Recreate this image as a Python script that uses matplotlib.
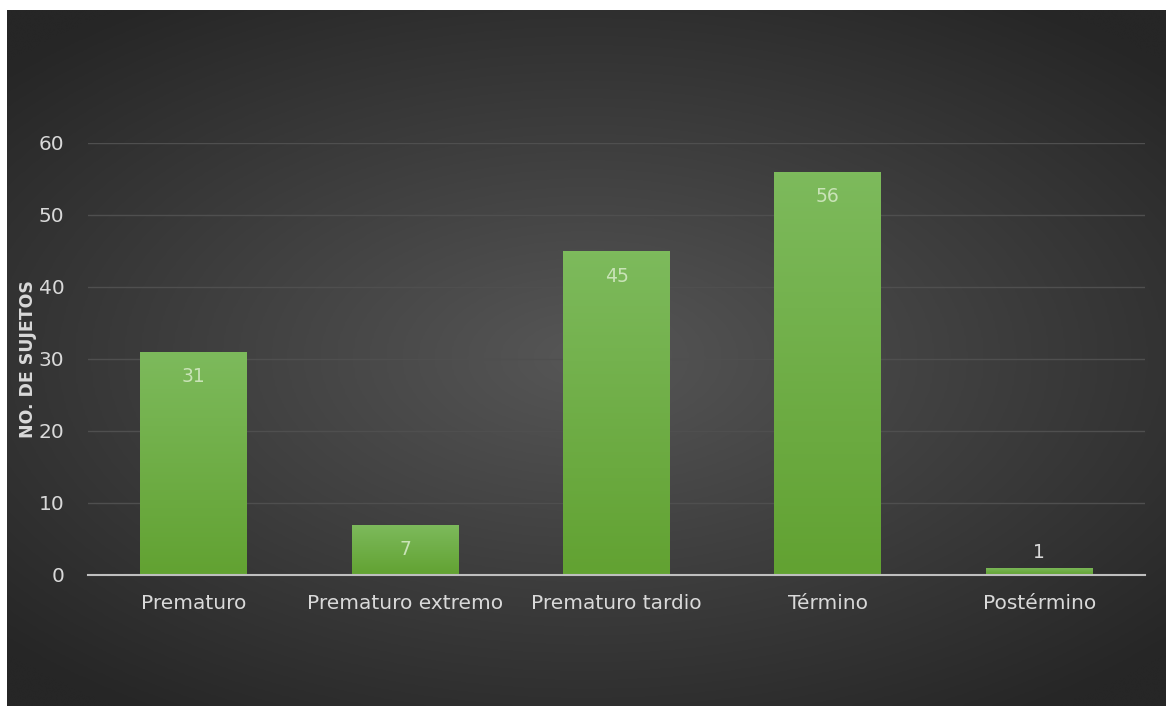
import numpy as np
import matplotlib.pyplot as plt
from matplotlib.colors import LinearSegmentedColormap

plt.rcParams['font.family'] = ['DejaVu Sans']

# data
categories = ['Prematuro', 'Prematuro extremo', 'Prematuro tardio', 'Término', 'Postérmino']
sujetos = [31, 7, 45, 56, 1]
yticks = [0, 10, 20, 30, 40, 50, 60]

W, H = 1166, 706
fig = plt.figure(figsize=(W / 100, H / 100), dpi=100, facecolor='white')

# dark radial background (thin white strip top and left, like the screenshot)
bg = fig.add_axes([7 / W, 0, 1 - 7 / W, 1 - 10 / H])
yy, xx = np.mgrid[-1:1:300j, -1:1:500j]
r = np.sqrt((xx * 0.95) ** 2 + (yy * 1.05) ** 2)
grad = np.clip(1 - r / 1.3, 0, 1)
bg.imshow(grad, cmap=LinearSegmentedColormap.from_list('bg', ['#262626', '#565656']),
          aspect='auto', extent=[0, 1, 0, 1], interpolation='bicubic')
bg.set_axis_off()

ax = fig.add_axes([88 / W, (H - 575) / H, (1145 - 88) / W, (575 - 143) / H])
ax.patch.set_alpha(0)
x = np.arange(len(categories))
bw = 0.506
bars = ax.bar(x, sujetos, width=bw, color='#6aab40', zorder=3)

# vertical green gradient on each bar
gcm = LinearSegmentedColormap.from_list('g', ['#62a232', '#7dba5c'])
for b in bars:
    x0, w, h = b.get_x(), b.get_width(), b.get_height()
    im = ax.imshow(np.linspace(0, 1, 100).reshape(-1, 1), cmap=gcm, origin='lower',
                   extent=[x0, x0 + w, 0, h], aspect='auto', zorder=4)
    im.set_clip_path(b)

for xi, v in zip(x, sujetos):
    if v > 3:
        ax.text(xi, v - 3.5, str(v), ha='center', va='center', color='#c9e3b7',
                fontsize=13.5, zorder=5)
    else:
        ax.text(xi, v + 2.1, str(v), ha='center', va='center', color='#d9d9d9',
                fontsize=13.5, zorder=5)

ax.set_xlim(-0.5, len(categories) - 0.5)
ax.set_ylim(0, 60)
ax.set_yticks(yticks)
ax.set_xticks(x)
ax.set_xticklabels(categories)
ax.tick_params(axis='both', length=0, colors='#d9d9d9', labelsize=14.5)
ax.tick_params(axis='y', pad=17)
ax.tick_params(axis='x', pad=14)
ax.yaxis.grid(True, color='#4f4f4f', linewidth=1, zorder=0)
for s in ['top', 'right', 'left']:
    ax.spines[s].set_visible(False)
ax.spines['bottom'].set_color('#bfbfbf')
ax.spines['bottom'].set_linewidth(1.5)
ax.spines['bottom'].set_zorder(6)

fig.text(28.5 / W, 1 - 359 / H, 'NO. DE SUJETOS', rotation=90, ha='center', va='center',
         color='#d9d9d9', fontsize=12.5, fontweight='bold')

fig.savefig('out.png', dpi=100, facecolor='white')
